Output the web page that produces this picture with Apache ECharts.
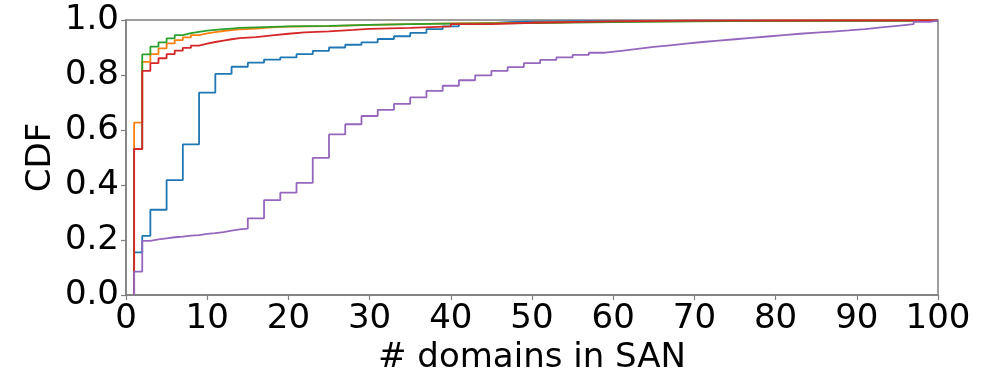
<!DOCTYPE html>
<html>
<head>
<meta charset="utf-8">
<script src="https://cdn.jsdelivr.net/npm/echarts@6/dist/echarts.min.js"></script>
<style>
html,body{margin:0;padding:0;background:#fff;}
#c{width:986px;height:372px;}
</style>
</head>
<body>
<div id="c"></div>
<script>
// step CDFs, x = # domains, y = CDF value from that x on
const blueX = [1,2,3,5,7,9,11,13,15,17,19,21,23,25,27,29,31,33,35,37,39,41,43,45,47,49,55,100];
const blueY = [0.155,0.215,0.31,0.418,0.548,0.736,0.804,0.83,0.845,0.856,0.864,0.876,0.888,0.9,0.91,0.919,0.931,0.941,0.953,0.967,0.977,0.985,0.989,0.992,0.994,0.996,0.998,1];

const orangeX = [1,2,3,4,5,6,7,8,9,10,11,12,13,14,16,18,20,25,30,35,40,50,60,70,80,100];
const orangeY = [0.627,0.848,0.876,0.897,0.915,0.927,0.937,0.945,0.951,0.956,0.96,0.963,0.966,0.969,0.973,0.976,0.978,0.982,0.985,0.988,0.99,0.994,0.996,0.998,0.999,1];

const greenX = [1,2,3,4,5,6,7,8,9,10,11,12,13,14,16,18,20,25,30,35,40,50,60,70,80,100];
const greenY = [0.531,0.875,0.903,0.919,0.933,0.945,0.952,0.957,0.961,0.964,0.967,0.969,0.971,0.973,0.975,0.977,0.979,0.982,0.985,0.987,0.989,0.992,0.995,0.997,0.998,1];

const redX = [1,2,3,4,5,6,7,8,9,10,11,12,13,14,16,18,20,22,25,28,30,35,40,45,50,60,70,100];
const redY = [0.531,0.815,0.843,0.861,0.876,0.889,0.899,0.907,0.914,0.92,0.925,0.93,0.934,0.938,0.944,0.95,0.955,0.959,0.964,0.968,0.971,0.977,0.985,0.99,0.995,0.998,0.999,1];

const purpleX = [1,2,3,4,5,6,7,8,9,10,11,12,13,14,15,17,19,21,23,25,27,29,31,33,35,37,39,41,43,45,47,49,51,53,55,57,59,61,63,65,67,69,71,73,75,77,79,81,83,85,87,89,91,93,95,97,99,100];
const purpleY = [0.085,0.197,0.202,0.206,0.21,0.212,0.216,0.218,0.222,0.225,0.229,0.234,0.239,0.241,0.279,0.345,0.372,0.408,0.499,0.584,0.621,0.651,0.673,0.695,0.719,0.742,0.761,0.781,0.799,0.815,0.829,0.843,0.855,0.864,0.873,0.881,0.888,0.895,0.902,0.908,0.914,0.92,0.925,0.93,0.935,0.94,0.945,0.95,0.954,0.958,0.962,0.967,0.973,0.979,0.985,0.993,0.998,1];

const xTicks = [0,10,20,30,40,50,60,70,80,90,100];

function steps(xs, ys){ return [[xs[0],0]].concat(xs.map((x,i)=>[x,ys[i]])); }

const FONT = 'DejaVu Sans';
const gray = '#7f7f7f';
function mk(name, color, xs, ys){
  return {name, type:'line', step:'end', showSymbol:false, symbol:'none', animation:false,
    lineStyle:{color, width:1.8}, data:steps(xs, ys)};
}

const c = echarts.init(document.getElementById('c'));
c.setOption({
  animation:false,
  grid:{left:126, right:48, top:20, bottom:77, outerBoundsMode:'none', show:true, borderColor:gray, borderWidth:1.5},
  xAxis:{type:'value', min:0, max:100, interval:10,
    name:'# domains in SAN', nameLocation:'middle', nameGap:46,
    nameTextStyle:{fontFamily:FONT, fontSize:34, color:'#000'},
    axisLine:{show:true, lineStyle:{color:gray, width:1.5}},
    axisTick:{show:true, length:5, lineStyle:{color:gray, width:1.2}},
    axisLabel:{fontFamily:FONT, fontSize:34, color:'#000', margin:7, formatter:v=>xTicks.includes(v)?String(v):''},
    splitLine:{show:false}},
  yAxis:{type:'value', min:0, max:1, interval:0.2,
    name:'CDF', nameLocation:'middle', nameGap:68, nameMoveOverlap:false,
    nameTextStyle:{fontFamily:FONT, fontSize:34, color:'#000'},
    axisLine:{show:true, lineStyle:{color:gray, width:1.5}},
    axisTick:{show:true, length:5, lineStyle:{color:gray, width:1.2}},
    axisLabel:{fontFamily:FONT, fontSize:34, color:'#000', margin:7, padding:[2,0,0,0], formatter:v=>v.toFixed(1)},
    splitLine:{show:false}},
  series:[
    mk('blue','#1f77b4',blueX,blueY),
    mk('orange','#ff7f0e',orangeX,orangeY),
    mk('green','#2ca02c',greenX,greenY),
    mk('red','#d62728',redX,redY),
    mk('purple','#9467bd',purpleX,purpleY)
  ]
});
</script>
</body>
</html>
